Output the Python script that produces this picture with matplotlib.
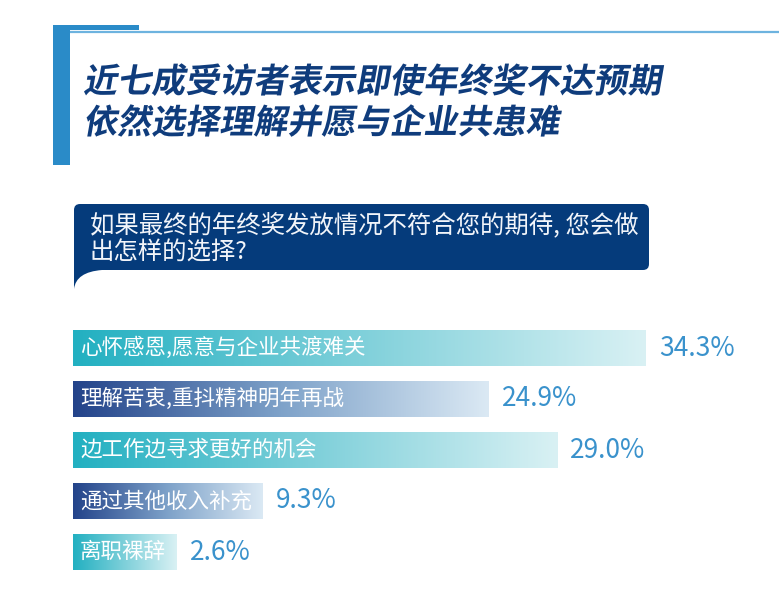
import matplotlib
matplotlib.use('Agg')
import matplotlib.pyplot as plt
import numpy as np
from matplotlib.patches import Rectangle, FancyBboxPatch, PathPatch
from matplotlib.path import Path
from matplotlib.colors import LinearSegmentedColormap
from matplotlib.patheffects import AbstractPathEffect
from matplotlib.transforms import Affine2D

plt.rcParams['font.family'] = ['Noto Sans CJK SC', 'DejaVu Sans']

# Data
title_lines = ['近七成受访者表示即使年终奖不达预期', '依然选择理解并愿与企业共患难']
question_lines = ['如果最终的年终奖发放情况不符合您的期待, 您会做', '出怎样的选择?']
options = ['心怀感恩,愿意与企业共渡难关', '理解苦衷,重抖精神明年再战',
           '边工作边寻求更好的机会', '通过其他收入补充', '离职裸辞']
shares = [34.3, 24.9, 29.0, 9.3, 2.6]
bar_styles = ['teal', 'navy', 'teal', 'navy', 'teal']

TITLE_COLOR = '#0f3c7c'
ACCENT = '#2a8bc8'
BOX_COLOR = '#053b7b'
VALUE_COLOR = '#3a92cc'
cmaps = {
    'teal': LinearSegmentedColormap.from_list('teal', ['#22b0c1', '#7fd0da', '#d9f1f4']),
    'navy': LinearSegmentedColormap.from_list('navy', ['#23438a', '#7ea2c9', '#dbe9f4']),
}


class Skew(AbstractPathEffect):
    # slant glyphs to fake an italic face
    def __init__(self, angle=10):
        super().__init__()
        self.angle = angle

    def draw_path(self, renderer, gc, tpath, affine, rgbFace=None):
        skew = Affine2D().skew_deg(self.angle, 0)
        renderer.draw_path(gc, tpath, skew + affine, rgbFace)


W, H = 779, 595
fig = plt.figure(figsize=(W / 100, H / 100), dpi=100)
fig.patch.set_facecolor('white')

# background / decoration layer in pixel units
bg = fig.add_axes([0, 0, 1, 1])
bg.set_xlim(0, W)
bg.set_ylim(H, 0)
bg.axis('off')

bg.add_patch(Rectangle((53, 25), 17, 140, color=ACCENT, lw=0))
bg.add_patch(Rectangle((53, 25), 86, 5, color=ACCENT, lw=0))
bg.plot([70, W], [31.5, 31.5], color='#6db3df', lw=1.6, solid_capstyle='butt')

for k, line in enumerate(title_lines):
    bg.text(83, 82 + 41 * k, line, fontsize=24.5, fontweight='heavy', color=TITLE_COLOR,
            va='center', ha='left', path_effects=[Skew(10)])

# question bubble
bg.add_patch(FancyBboxPatch((74, 204), 575, 66, boxstyle='round,pad=0,rounding_size=6',
                            fc=BOX_COLOR, ec='none'))
tail = Path([(74, 262), (74, 289), (76, 272), (102, 270), (102, 262), (74, 262)],
            [Path.MOVETO, Path.LINETO, Path.CURVE3, Path.CURVE3, Path.LINETO, Path.CLOSEPOLY])
bg.add_patch(PathPatch(tail, fc=BOX_COLOR, ec='none'))
for k, line in enumerate(question_lines):
    bg.text(90, 225 + 28 * k, line, fontsize=17.6, color='#f2f5fa', va='center', ha='left')

# bar chart
px_per_pct = 16.7
left_px, right_px = 73, W
y0_px, y1_px = 322.5, 577.5
ax = fig.add_axes([left_px / W, (H - y1_px) / H, (right_px - left_px) / W, (y1_px - y0_px) / H])
ax.axis('off')
xmax = (right_px - left_px) / px_per_pct
ax.set_xlim(0, xmax)
ax.set_ylim(len(options) - 0.5, -0.5)

renderer = fig.canvas.get_renderer()
pad_l = 7 / px_per_pct
pad_r = 11 / px_per_pct
gap = 13 / px_per_pct
grad = np.linspace(0, 1, 256).reshape(1, -1)
bh = 0.35
for i, (name, v, style) in enumerate(zip(options, shares, bar_styles)):
    t = ax.text(pad_l, i, name, fontsize=15.5, color='white', va='center', ha='left', zorder=3)
    bb = t.get_window_extent(renderer)
    label_w = bb.width / px_per_pct
    width = max(v, pad_l + label_w + pad_r)
    ax.imshow(grad, cmap=cmaps[style], extent=(0, width, i + bh, i - bh),
              aspect='auto', zorder=1, interpolation='bicubic')
    ax.text(width + gap, i, f'{v:.1f}%', fontsize=19, color=VALUE_COLOR,
            va='center', ha='left', zorder=3)

ax.set_xlim(0, xmax)
ax.set_ylim(len(options) - 0.5, -0.5)

fig.savefig('out.png', dpi=100, facecolor='white')
